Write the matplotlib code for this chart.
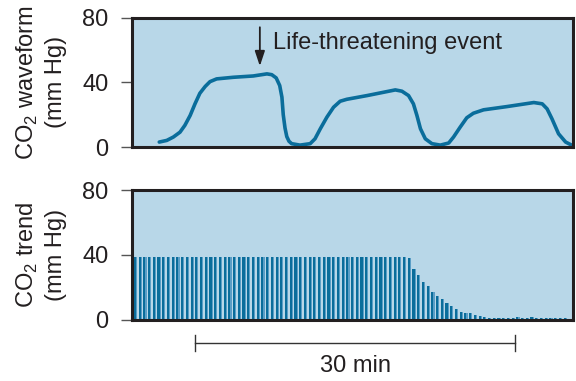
import numpy as np
import matplotlib
matplotlib.use("Agg")
import matplotlib.pyplot as plt

plt.rcParams["font.family"] = ["Liberation Sans", "DejaVu Sans"]
plt.rcParams["mathtext.fontset"] = "custom"
plt.rcParams["mathtext.rm"] = "Liberation Sans"

# Capnography waveform (time in arbitrary sweep units, CO2 in mm Hg)
wave_t = [6.2, 7.9, 9.4, 10.9, 12.0, 13.2, 14.3, 15.4, 16.6, 17.7, 19.2, 23.0,
          27.5, 30.6, 31.7, 32.7, 33.5, 34.0, 34.3, 34.7, 35.1, 35.6, 36.2, 38.1,
          40.4, 41.5, 42.7, 44.2, 45.7, 47.2, 48.7, 53.3, 59.7, 61.2, 62.7, 63.8,
          64.6, 65.4, 66.5, 68.0, 69.9, 71.8, 72.9, 74.4, 75.9, 77.4, 79.7, 85.0,
          91.1, 93.0, 94.1, 95.2, 96.7, 98.3, 99.8]
wave_co2 = [3.1, 4.1, 6.2, 9.2, 13.4, 19.5, 26.7, 33.2, 37.4, 40.4, 42.1, 43.1,
            43.9, 45.2, 44.7, 42.7, 38.0, 30.8, 20.0, 11.8, 6.5, 3.6, 2.1, 1.2,
            2.1, 5.1, 11.3, 18.5, 24.6, 28.3, 29.5, 31.8, 35.3, 34.5, 31.8, 26.7,
            19.5, 11.3, 5.1, 2.1, 1.2, 2.5, 6.2, 12.3, 18.1, 20.9, 23.0, 25.0,
            27.5, 26.7, 23.6, 17.5, 8.2, 3.1, 1.0]

# End-tidal CO2 trend, one bar per sample
trend_co2 = [39.0] * 58 + [38.2, 31.4, 27.7, 23.4, 20.9, 17.2, 14.8, 12.9, 10.5, 8.7,
                           6.6, 5.0, 4.3, 4.1, 3.1, 2.3, 1.7, 1.0, 1.0, 0.8, 0.8,
                           1.2, 1.2, 1.8, 1.2, 1.2, 1.8, 1.2, 1.2, 1.2, 1.0, 1.2, 1.2, 1.2]
sample_interval_min = 0.4415
first_sample_min = 0.33
trend_xlim_min = 41.26
scale_start_min = 5.87
scale_len_min = 30

y_ticks = [0, 40, 80]

bg = "#b8d7e8"
line_c = "#0a6d9b"
dark = "#231f20"
fs = 17

fig = plt.figure(figsize=(5.76, 3.81), dpi=100)
ax1 = fig.add_axes([0.229, 0.614, 0.766, 0.340])
ax2 = fig.add_axes([0.229, 0.161, 0.766, 0.340])

for ax in (ax1, ax2):
    ax.set_facecolor(bg)
    ax.set_ylim(0, 80)
    ax.set_yticks(y_ticks)
    ax.set_xticks([])
    ax.tick_params(axis="y", length=8, width=1, color="#555555", pad=9,
                   labelsize=fs, labelcolor=dark)
    for s in ax.spines.values():
        s.set_linewidth(2.2)
        s.set_color(dark)

# waveform
ax1.set_xlim(0, 100)
ax1.plot(wave_t, wave_co2, color=line_c, lw=2.6, solid_joinstyle="round",
         solid_capstyle="round")
ax1.annotate("", xy=(29.0, 50.0), xytext=(29.0, 74.0),
             arrowprops=dict(arrowstyle="-|>,head_length=0.9,head_width=0.3",
                             color=dark, lw=1.3, shrinkA=0, shrinkB=0))
ax1.text(31.9, 64.0, "Life-threatening event", fontsize=fs, color=dark,
         ha="left", va="center")
ax1.set_ylabel("CO$_\\mathregular{2}$ waveform\n(mm Hg)", fontsize=fs, color=dark,
               linespacing=1.3)
ax1.yaxis.set_label_coords(-0.147, 0.5)

# trend bars
n = len(trend_co2)
times = first_sample_min + sample_interval_min * np.arange(n)
ax2.set_xlim(0, trend_xlim_min)
w = sample_interval_min
ax2.bar(times - 0.33 * w, trend_co2, width=0.68 * w, align="edge",
        color="#5a9ec6", linewidth=0)
ax2.bar(times - 0.33 * w, trend_co2, width=0.45 * w, align="edge",
        color=line_c, linewidth=0)
ax2.set_ylabel("CO$_\\mathregular{2}$ trend\n(mm Hg)", fontsize=fs, color=dark,
               linespacing=1.3)
ax2.yaxis.set_label_coords(-0.147, 0.5)

# 30-minute scale bar under the trend
y_sb = -14.5
x0, x1 = scale_start_min, scale_start_min + scale_len_min
kw = dict(color="#333333", lw=1.0, clip_on=False)
ax2.plot([x0, x1], [y_sb, y_sb], **kw)
ax2.plot([x0, x0], [y_sb - 5, y_sb + 5], **kw)
ax2.plot([x1, x1], [y_sb - 5, y_sb + 5], **kw)
ax2.text((x0 + x1) / 2, -28.5, "30 min", fontsize=fs, color=dark,
         ha="center", va="center", clip_on=False)

fig.savefig("out.png", dpi=100, facecolor="white")
